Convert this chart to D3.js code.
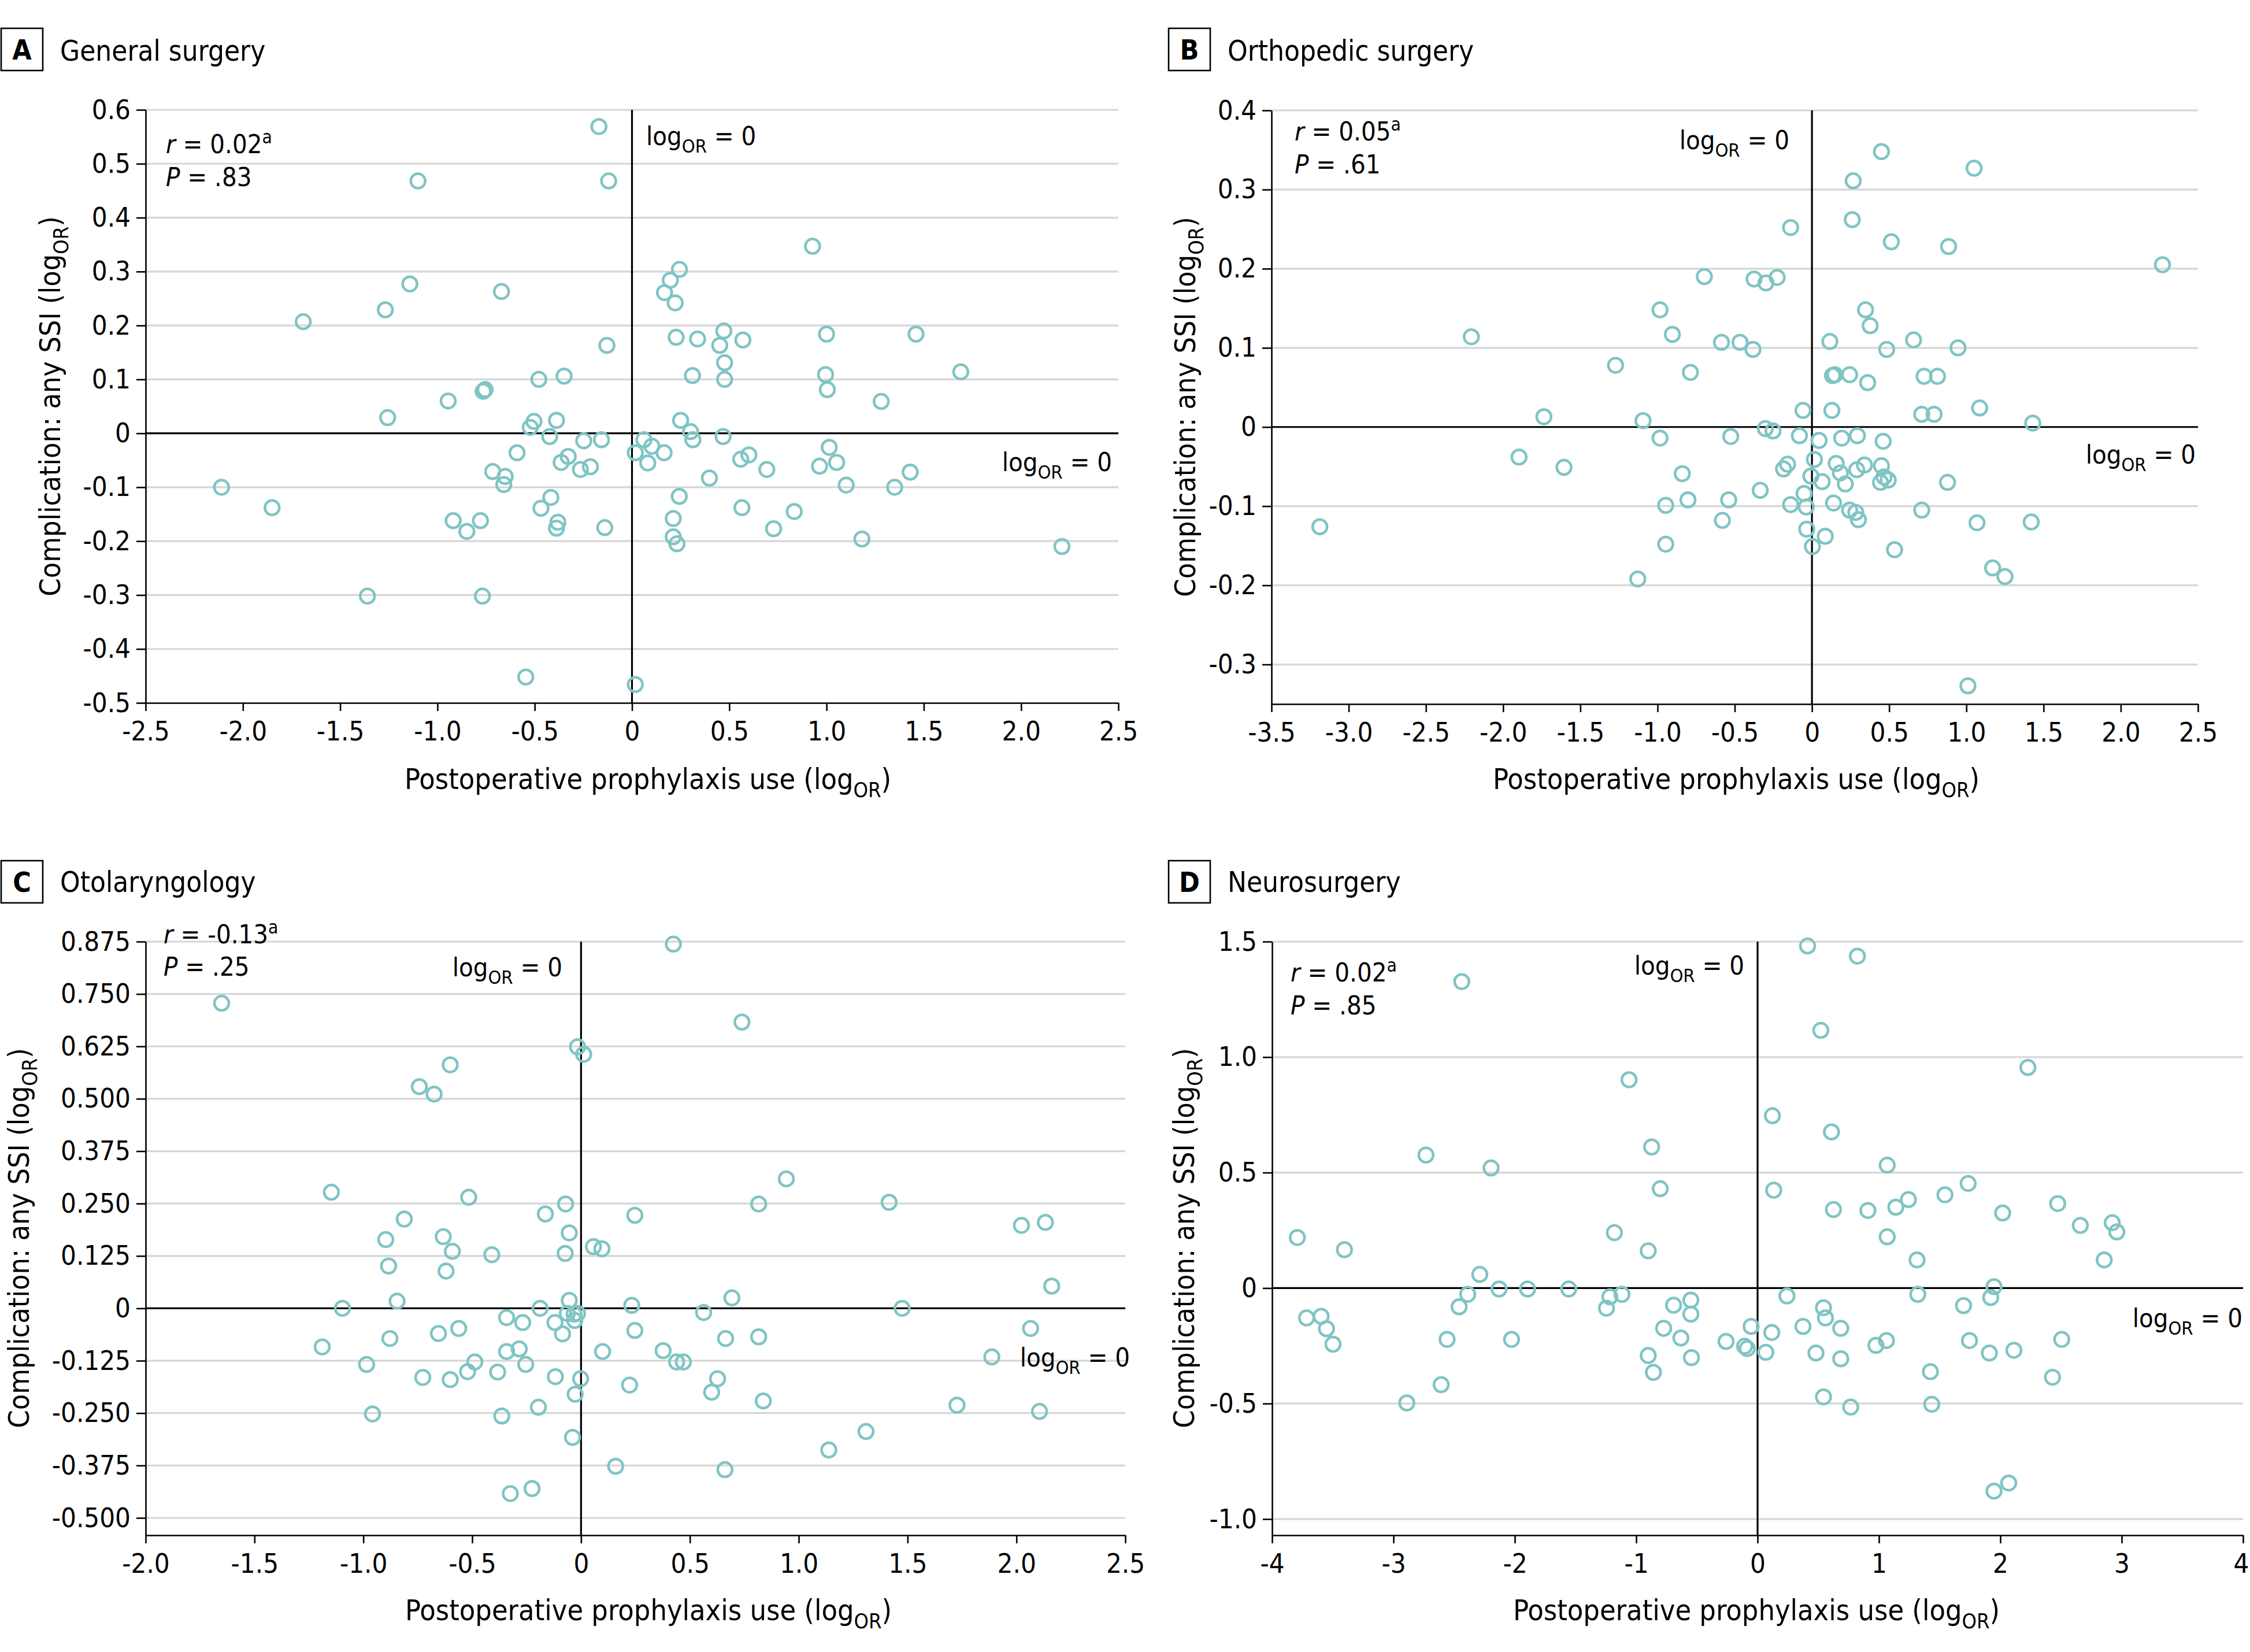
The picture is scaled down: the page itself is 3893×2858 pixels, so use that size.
<!DOCTYPE html>
<html><head><meta charset="utf-8">
<script src="https://cdn.jsdelivr.net/npm/d3@7/dist/d3.min.js"></script>
<style>
html,body{margin:0;padding:0;background:#fff;}
svg text{font-family:"DejaVu Sans Condensed","Liberation Sans Narrow",sans-serif;fill:#000;}
</style></head><body>
<svg id="chart" width="3893" height="2858"></svg>
<script>
// ---------- DATA ----------
const panelLetters = ["A","B","C","D"];
const panelTitles = ["General surgery","Orthopedic surgery","Otolaryngology","Neurosurgery"];
const rValues = ["0.02","0.05","-0.13","0.02"];
const pValues = [".83",".61",".25",".85"];

const aXTicks = [-2.5,-2,-1.5,-1,-0.5,0,0.5,1,1.5,2,2.5];
const aXLabels = ["-2.5","-2.0","-1.5","-1.0","-0.5","0","0.5","1.0","1.5","2.0","2.5"];
const aYTicks = [0.6,0.5,0.4,0.3,0.2,0.1,0,-0.1,-0.2,-0.3,-0.4,-0.5];
const aYLabels = ["0.6","0.5","0.4","0.3","0.2","0.1","0","-0.1","-0.2","-0.3","-0.4","-0.5"];

const bXTicks = [-3.5,-3,-2.5,-2,-1.5,-1,-0.5,0,0.5,1,1.5,2,2.5];
const bXLabels = ["-3.5","-3.0","-2.5","-2.0","-1.5","-1.0","-0.5","0","0.5","1.0","1.5","2.0","2.5"];
const bYTicks = [0.4,0.3,0.2,0.1,0,-0.1,-0.2,-0.3];
const bYLabels = ["0.4","0.3","0.2","0.1","0","-0.1","-0.2","-0.3"];

const cXTicks = [-2,-1.5,-1,-0.5,0,0.5,1,1.5,2,2.5];
const cXLabels = ["-2.0","-1.5","-1.0","-0.5","0","0.5","1.0","1.5","2.0","2.5"];
const cYTicks = [0.875,0.75,0.625,0.5,0.375,0.25,0.125,0,-0.125,-0.25,-0.375,-0.5];
const cYLabels = ["0.875","0.750","0.625","0.500","0.375","0.250","0.125","0","-0.125","-0.250","-0.375","-0.500"];

const dXTicks = [-4,-3,-2,-1,0,1,2,3,4];
const dXLabels = ["-4","-3","-2","-1","0","1","2","3","4"];
const dYTicks = [1.5,1,0.5,0,-0.5,-1];
const dYLabels = ["1.5","1.0","0.5","0","-0.5","-1.0"];

// Panel A: General surgery (x = prophylaxis logOR, y = SSI logOR)
const aPoints = [
[-0.17,0.569],[-0.12,0.468],[-1.10,0.468],[-1.69,0.207],[-2.11,-0.10],[-1.85,-0.138],[1.69,0.114],[1.46,0.184],[1.43,-0.072],[2.21,-0.21],
[0.928,0.347],[-1.142,0.277],[-1.268,0.229],[-0.671,0.263],[0.244,0.304],[0.197,0.284],[0.167,0.261],[0.222,0.242],[0.227,0.178],[0.337,0.175],
[0.472,0.19],[0.451,0.163],[0.57,0.173],[1.0,0.184],[-0.129,0.163],[0.476,0.131],[0.311,0.107],[0.476,0.1],[0.995,0.109],[1.004,0.081],
[1.281,0.059],[-0.479,0.1],[-0.349,0.106],[-0.765,0.078],[-0.755,0.081],[-0.945,0.06],[-1.256,0.029],[-0.504,0.022],[-0.523,0.011],[-0.388,0.024],
[-0.423,-0.006],[-0.248,-0.014],[-0.157,-0.012],[0.25,0.024],[0.301,0.003],[0.313,-0.012],[0.468,-0.006],[0.061,-0.012],[0.102,-0.024],[0.017,-0.036],
[0.165,-0.036],[0.081,-0.055],[-0.591,-0.036],[-0.328,-0.043],[-0.364,-0.054],[-0.214,-0.062],[-0.265,-0.067],[-0.716,-0.071],[-0.652,-0.08],[-0.659,-0.095],
[0.398,-0.083],[0.559,-0.048],[0.601,-0.04],[0.693,-0.067],[1.014,-0.026],[1.052,-0.054],[0.964,-0.061],[1.101,-0.096],[1.35,-0.1],[-0.417,-0.119],
[-0.468,-0.139],[-0.919,-0.162],[-0.779,-0.162],[-0.849,-0.182],[-0.381,-0.165],[-0.388,-0.176],[-0.14,-0.175],[0.243,-0.117],[0.212,-0.158],[0.565,-0.138],
[0.834,-0.145],[0.728,-0.177],[1.182,-0.196],[0.212,-0.192],[0.231,-0.205],[-1.36,-0.302],[-0.769,-0.302],[-0.546,-0.452],[0.017,-0.466]
];

// Panel B: Orthopedic surgery
const bPoints = [
[0.45,0.348],[1.05,0.327],[2.27,0.205],[1.43,0.005],[1.42,-0.12],[1.25,-0.189],[1.01,-0.327],
[0.267,0.311],[0.261,0.262],[-0.138,0.252],[0.514,0.234],[0.885,0.228],[-0.697,0.19],[-0.375,0.187],[-0.298,0.182],[-0.225,0.189],
[-0.984,0.148],[-0.904,0.117],[-2.206,0.114],[-0.586,0.107],[-0.466,0.107],[-0.382,0.098],[0.347,0.148],[0.377,0.128],[0.116,0.108],[0.484,0.098],
[0.658,0.11],[0.946,0.1],[-1.272,0.078],[-0.787,0.069],[0.133,0.065],[0.148,0.066],[0.244,0.066],[0.361,0.056],[0.726,0.064],[0.813,0.064],
[1.086,0.024],[0.711,0.016],[0.791,0.016],[-0.058,0.021],[0.129,0.021],[-1.736,0.013],[-1.094,0.008],[-0.302,-0.002],[-0.252,-0.005],[-0.984,-0.014],
[-0.526,-0.012],[-0.081,-0.011],[0.046,-0.017],[0.193,-0.014],[0.294,-0.011],[0.461,-0.018],[-1.897,-0.038],[-1.606,-0.051],[-0.84,-0.059],[-0.184,-0.053],
[-0.158,-0.047],[0.016,-0.041],[0.157,-0.046],[0.184,-0.058],[-0.007,-0.062],[0.066,-0.069],[0.216,-0.072],[0.29,-0.054],[0.34,-0.048],[0.45,-0.049],
[0.444,-0.07],[0.467,-0.063],[0.494,-0.067],[0.878,-0.07],[-0.335,-0.08],[-0.803,-0.092],[-0.539,-0.092],[-0.947,-0.099],[-0.138,-0.098],[-0.051,-0.084],
[-0.037,-0.101],[0.14,-0.096],[0.244,-0.105],[0.284,-0.108],[0.301,-0.117],[0.711,-0.105],[-3.187,-0.126],[-0.58,-0.118],[1.069,-0.121],[-0.034,-0.129],
[0.086,-0.138],[0.003,-0.151],[-0.947,-0.148],[0.535,-0.155],[-1.128,-0.192],[1.17,-0.178]
];

// Panel C: Otolaryngology
const cPoints = [
[-1.651,0.728],[-0.016,0.624],[0.012,0.606],[-0.601,0.581],[-0.743,0.529],[-0.675,0.511],[-1.147,0.277],[-0.516,0.265],[-0.071,0.249],[-0.164,0.225],
[0.247,0.222],[-0.812,0.213],[-0.054,0.18],[-0.633,0.171],[-0.897,0.164],[-0.591,0.136],[0.057,0.147],[0.096,0.142],[-0.073,0.131],[-0.41,0.128],
[-0.884,0.101],[-0.62,0.089],[-0.845,0.017],[-0.054,0.019],[-1.096,0.0],[-0.188,0.0],[0.233,0.007],[-0.063,-0.012],[-0.032,-0.014],[-0.016,-0.012],
[-0.029,-0.029],[-0.342,-0.022],[-0.268,-0.034],[-0.12,-0.034],[-0.085,-0.061],[-0.562,-0.048],[-0.655,-0.06],[0.247,-0.053],[-0.878,-0.072],[-1.189,-0.092],
[-0.342,-0.103],[-0.284,-0.097],[0.099,-0.103],[0.377,-0.101],[-0.985,-0.134],[-0.488,-0.128],[-0.521,-0.151],[-0.254,-0.134],[-0.383,-0.152],[-0.727,-0.165],
[-0.601,-0.17],[-0.118,-0.163],[-0.002,-0.168],[-0.027,-0.205],[0.223,-0.183],[-0.958,-0.252],[-0.364,-0.257],[-0.196,-0.236],[-0.039,-0.308],[0.159,-0.377],
[-0.325,-0.442],[-0.225,-0.43],
[0.424,0.869],[0.739,0.683],[0.943,0.309],[0.816,0.249],[1.415,0.253],[2.023,0.198],[2.133,0.205],[2.162,0.053],[0.693,0.025],[0.563,-0.01],
[1.475,0.0],[2.065,-0.048],[0.664,-0.072],[0.816,-0.068],[0.439,-0.128],[0.47,-0.128],[1.887,-0.116],[0.627,-0.168],[0.6,-0.2],[0.837,-0.221],
[1.727,-0.231],[2.106,-0.246],[1.309,-0.294],[1.138,-0.338],[0.661,-0.385]
];

// Panel D: Neurosurgery
const dPoints = [
[0.412,1.481],[0.822,1.437],[-2.437,1.327],[0.521,1.116],[2.227,0.955],[-1.059,0.902],[0.122,0.746],[0.609,0.676],[-2.732,0.576],[-0.873,0.611],
[-2.196,0.52],[1.068,0.532],[-0.802,0.43],[0.133,0.424],[1.735,0.453],[1.544,0.404],[1.243,0.383],[1.139,0.35],[0.625,0.34],[0.909,0.336],
[2.473,0.366],[2.019,0.325],[2.659,0.271],[2.922,0.283],[2.96,0.243],[-3.792,0.219],[-1.18,0.24],[1.068,0.222],[-3.404,0.166],[-0.901,0.161],
[1.314,0.122],[2.856,0.122],[-2.289,0.059],[1.948,0.006],[-2.13,-0.004],[-1.895,-0.004],[-1.556,-0.004],[-2.388,-0.027],[-1.217,-0.038],[-1.118,-0.027],
[1.32,-0.027],[0.242,-0.034],[1.921,-0.041],[-0.55,-0.052],[-2.459,-0.081],[-1.245,-0.087],[0.543,-0.085],[-0.692,-0.074],[1.697,-0.076],[-3.716,-0.129],
[-3.596,-0.122],[-0.55,-0.113],[0.559,-0.129],[-3.552,-0.176],[-0.053,-0.166],[0.374,-0.166],[-0.774,-0.174],[0.685,-0.174],[0.117,-0.192],[-3.498,-0.243],
[-2.558,-0.222],[-2.027,-0.222],[-0.632,-0.216],[-0.26,-0.231],[1.062,-0.227],[1.746,-0.227],[2.506,-0.222],[-0.107,-0.252],[-0.085,-0.262],[0.068,-0.278],
[0.975,-0.248],[-0.901,-0.292],[0.481,-0.281],[1.91,-0.281],[2.112,-0.269],[-0.545,-0.301],[0.685,-0.306],[-0.858,-0.365],[1.424,-0.362],[2.43,-0.386],
[-2.607,-0.418],[0.543,-0.471],[-2.89,-0.497],[0.767,-0.515],[1.435,-0.503],[1.948,-0.879],[2.069,-0.844]
];

// ---------- LAYOUT ----------
const layout = [
 {pts:aPoints, xt:aXTicks, xl:aXLabels, yt:aYTicks, yl:aYLabels, xd:[-2.5,2.5], yd:[-0.5,0.6],
  left:252, right:1935, top:190, bottom:1216, box:[2,49], title:[104,105], stats:[287,265,322],
  topLab:{x:1118,y:251,anchor:"start"}, rightLab:{x:1924,y:815}, xTitle:[1121,1365], yTitle:[104,703]},
 {pts:bPoints, xt:bXTicks, xl:bXLabels, yt:bYTicks, yl:bYLabels, xd:[-3.5,2.5], yd:[-0.35,0.4],
  left:2200, right:3803, top:191, bottom:1218, box:[2022,49], title:[2124,105], stats:[2240,243,300],
  topLab:{x:3096,y:258,anchor:"end"}, rightLab:{x:3799,y:802}, xTitle:[3004,1365], yTitle:[2068,704]},
 {pts:cPoints, xt:cXTicks, xl:cXLabels, yt:cYTicks, yl:cYLabels, xd:[-2,2.5], yd:[-0.5414,0.875],
  left:252, right:1947, top:1629, bottom:2656, box:[2,1489], title:[104,1543], stats:[283,1632,1688],
  topLab:{x:973,y:1689,anchor:"end"}, rightLab:{x:1955,y:2364}, xTitle:[1122,2803], yTitle:[50,2142]},
 {pts:dPoints, xt:dXTicks, xl:dXLabels, yt:dYTicks, yl:dYLabels, xd:[-4,4], yd:[-1.07,1.5],
  left:2201, right:3881, top:1629, bottom:2656, box:[2022,1489], title:[2124,1543], stats:[2233,1698,1755],
  topLab:{x:3018,y:1686,anchor:"end"}, rightLab:{x:3880,y:2296}, xTitle:[3039,2803], yTitle:[2066,2142]}
];

const svg = d3.select("#chart");
const TEAL = "#80c4c4";
const TICKFS = 47, LABFS = 45, AXFS = 50, TITLEFS = 49;
const W = 3893;

function logOR(sel, fs){
  sel.append("tspan").text("log");
  sel.append("tspan").attr("font-size", fs*0.72).attr("dy", fs*0.28).text("OR");
  sel.append("tspan").attr("dy", -fs*0.28).text(" = 0");
}

layout.forEach((L, i) => {
  const g = svg.append("g");
  const x = d3.scaleLinear().domain(L.xd).range([L.left, L.right]);
  const y = d3.scaleLinear().domain(L.yd).range([L.bottom, L.top]);

  // gridlines
  g.append("g").selectAll("line").data(L.yt.filter(v => v !== 0 && Math.abs(y(v) - L.bottom) > 2))
    .join("line")
    .attr("x1", L.left).attr("x2", L.right)
    .attr("y1", d => y(d)).attr("y2", d => y(d))
    .attr("stroke", "#d6d6d6").attr("stroke-width", 3.2);

  // zero reference lines
  g.append("line").attr("x1", L.left).attr("x2", L.right).attr("y1", y(0)).attr("y2", y(0))
    .attr("stroke", "#000").attr("stroke-width", 3.2);
  g.append("line").attr("x1", x(0)).attr("x2", x(0)).attr("y1", L.top).attr("y2", L.bottom)
    .attr("stroke", "#000").attr("stroke-width", 3.2);

  // axes
  const ya = g.append("g").attr("transform", `translate(${L.left},0)`)
    .call(d3.axisLeft(y).tickValues(L.yt).tickFormat((d, k) => L.yl[k]).tickSize(16).tickSizeOuter(0).tickPadding(10));
  const xa = g.append("g").attr("transform", `translate(0,${L.bottom})`)
    .call(d3.axisBottom(x).tickValues(L.xt).tickFormat((d, k) => L.xl[k]).tickSize(14).tickSizeOuter(0).tickPadding(18));
  [ya, xa].forEach(a => {
    a.select(".domain").attr("stroke", "#000").attr("stroke-width", 2.6);
    a.selectAll(".tick line").attr("stroke", "#000").attr("stroke-width", 2.6);
    a.selectAll(".tick text").attr("font-size", TICKFS).attr("fill", "#000")
      .style("font-family", '"DejaVu Sans Condensed",sans-serif');
  });
  // keep the outermost x tick label inside the page
  xa.selectAll(".tick text").each(function(){
    const bb = this.getBBox();
    const tx = x(d3.select(this.parentNode).datum());
    const over = tx + bb.x + bb.width - (W - 2);
    if (over > 0) d3.select(this).attr("dx", -over);
  });

  // points
  g.append("g").selectAll("circle").data(L.pts).join("circle")
    .attr("cx", d => x(d[0])).attr("cy", d => y(d[1])).attr("r", 12.5)
    .attr("fill", "none").attr("stroke", TEAL).attr("stroke-width", 4.5);

  // panel label box & title
  g.append("rect").attr("x", L.box[0]).attr("y", L.box[1]).attr("width", 72).attr("height", 73)
    .attr("fill", "none").attr("stroke", "#000").attr("stroke-width", 2.6);
  g.append("text").attr("x", L.box[0] + 36).attr("y", L.box[1] + 54).attr("text-anchor", "middle")
    .attr("font-size", 48).attr("font-weight", "bold").text(panelLetters[i]);
  g.append("text").attr("x", L.title[0]).attr("y", L.title[1]).attr("font-size", TITLEFS).text(panelTitles[i]);

  // stats
  const r = g.append("text").attr("x", L.stats[0]).attr("y", L.stats[1]).attr("font-size", LABFS);
  r.append("tspan").attr("font-style", "italic").text("r");
  r.append("tspan").text(" = " + rValues[i]);
  r.append("tspan").attr("font-size", LABFS*0.7).attr("dy", -LABFS*0.38).text("a");
  const p = g.append("text").attr("x", L.stats[0]).attr("y", L.stats[2]).attr("font-size", LABFS);
  p.append("tspan").attr("font-style", "italic").text("P");
  p.append("tspan").text(" = " + pValues[i]);

  // logOR = 0 labels
  g.append("text").attr("x", L.topLab.x).attr("y", L.topLab.y).attr("text-anchor", L.topLab.anchor)
    .attr("font-size", LABFS).call(s => logOR(s, LABFS));
  g.append("text").attr("x", L.rightLab.x).attr("y", L.rightLab.y).attr("text-anchor", "end")
    .attr("font-size", LABFS).call(s => logOR(s, LABFS));

  // axis titles
  const xt = g.append("text").attr("x", L.xTitle[0]).attr("y", L.xTitle[1]).attr("text-anchor", "middle").attr("font-size", AXFS);
  xt.append("tspan").text("Postoperative prophylaxis use (log");
  xt.append("tspan").attr("font-size", AXFS*0.72).attr("dy", AXFS*0.28).text("OR");
  xt.append("tspan").attr("dy", -AXFS*0.28).text(")");
  const yt = g.append("text").attr("transform", `translate(${L.yTitle[0]},${L.yTitle[1]}) rotate(-90)`)
    .attr("text-anchor", "middle").attr("font-size", AXFS);
  yt.append("tspan").text("Complication: any SSI (log");
  yt.append("tspan").attr("font-size", AXFS*0.72).attr("dy", AXFS*0.28).text("OR");
  yt.append("tspan").attr("dy", -AXFS*0.28).text(")");
});
</script>
</body></html>
